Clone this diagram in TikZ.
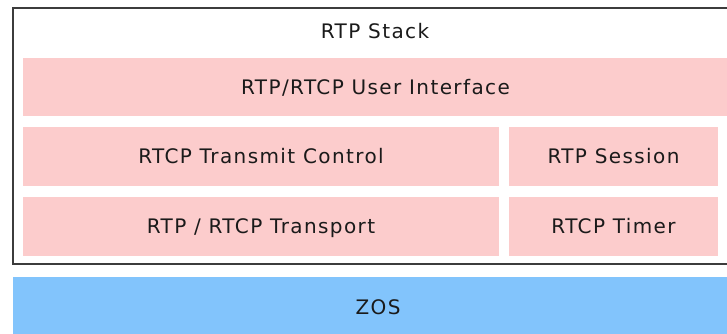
\documentclass[tikz,border=0pt]{standalone}
\usepackage{fontspec}
\setsansfont{DejaVu Sans}[LetterSpace=7]
\usetikzlibrary{positioning}
\definecolor{LayerPink}{HTML}{FCCCCC}
\definecolor{OsBlue}{HTML}{82C4FC}
\definecolor{FrameGray}{HTML}{3C3C3C}
\definecolor{LabelText}{HTML}{1A1A1A}
\tikzset{
  every node/.style = {font=\sffamily\fontsize{20}{24}\selectfont,
                       text=LabelText, text height=14.6pt, text depth=0pt},
  layer/.style      = {rectangle, fill=LayerPink, anchor=north west,
                       inner sep=0pt, outer sep=0pt},
  oslayer/.style    = {layer, fill=OsBlue},
  stackframe/.style = {rectangle, draw=FrameGray, line width=2pt,
                       anchor=north west, inner sep=0pt},
}

\begin{document}
\begin{tikzpicture}[x=1pt, y=-1pt]
\useasboundingbox (0,0) rectangle (727,333);
\clip (0,0) rectangle (727,333);

% =========================================================================
% Stack frame
% =========================================================================
\node[stackframe, minimum width=727pt, minimum height=256pt]
  (stack) at (11.5, 6.5) {};
\node (title) at (375, 31) {RTP Stack};

% =========================================================================
% Layers
% =========================================================================
\node[layer, minimum width=705pt, minimum height=58pt]
  (ui) at (23, 58) {RTP/RTCP User Interface};

\node[layer, minimum width=476pt, minimum height=59pt]
  (txctrl) at (23, 127) {RTCP Transmit Control};
\node[layer, minimum width=209pt, minimum height=59pt,
      right=10pt of txctrl.north east, anchor=north west]
  (session) {RTP Session};

\node[layer, minimum width=476pt, minimum height=59pt]
  (transport) at (23, 197) {RTP / RTCP Transport};
\node[layer, minimum width=209pt, minimum height=59pt,
      right=10pt of transport.north east, anchor=north west]
  (timer) {RTCP Timer};

% OS layer (outside the frame)
\node[oslayer, minimum width=730pt, minimum height=60pt]
  (zos) at (13, 277) {ZOS};

\end{tikzpicture}
\end{document}
